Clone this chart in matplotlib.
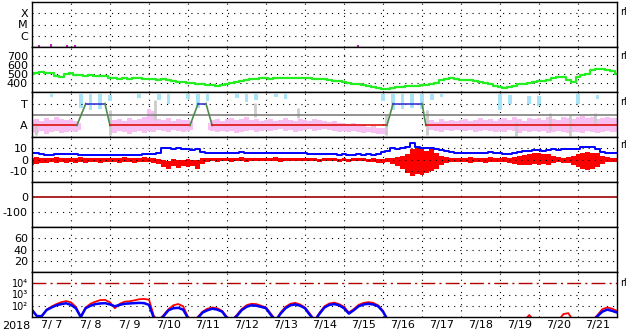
import numpy as np
import matplotlib.pyplot as plt

plt.rcParams['font.family'] = ['DejaVu Sans']
plt.rcParams['axes.unicode_minus'] = False

# time axis: days since 2018-07-07 00:00 UT, 3-hourly samples (7/7 .. 7/22)
t3 = np.arange(121) * 0.125
day_labels = ["7/%2d" % d for d in range(7, 22)]

# X-ray flux (only a few points above the panel floor)
xray_t = [0.18, 0.49, 0.90, 1.10, 8.36]
xray_f = [1.5e-7, 1.9e-7, 1.5e-7, 1.4e-7, 1.6e-7]

# solar wind speed (km/s)
speed = [
    505, 515, 522, 515, 508, 480, 470, 505,
    512, 492, 485, 480, 488, 478, 482, 475,
    460, 450, 445, 452, 448, 455, 450, 442,
    445, 440, 438, 442, 435, 425, 415, 408,
    400, 395, 390, 385, 378, 375, 372, 378,
    385, 395, 410, 425, 435, 440, 445, 450,
    455, 448, 452, 458, 450, 455, 460, 452,
    458, 450, 445, 448, 440, 432, 425, 418,
    410, 400, 392, 385, 378, 365, 355, 345,
    338, 335, 345, 355, 360, 362, 368, 372,
    375, 378, 385, 400, 430, 445, 450, 440,
    435, 428, 430, 420, 410, 398, 385, 368,
    352, 345, 350, 372, 385, 392, 400, 410,
    418, 422, 428, 460, 470, 462, 430, 410,
    470, 490, 495, 540, 560, 555, 545, 530,
    505]

# IMF sector: +1 = toward, -1 = away
sector_t = [0, 1.15, 1.38, 1.87, 2.0, 4.05, 4.26, 4.46, 4.62, 9.1, 9.26, 10.0, 10.1, 15]
sector_v = [-1, -1, 1, 1, -1, -1, 1, 1, -1, -1, 1, 1, -1, -1]

nan = np.nan
# pink (away) envelope, 3-hourly
pink_hi = [
    -0.5, -0.4, -0.6, -0.3, -0.5, -0.2, -0.4, -0.5,
    -0.4, -0.6, -0.8, nan, nan, nan, nan, nan,
    -0.3, -0.5, -0.4, -0.6, -0.3, -0.5, -0.4, -0.2,
    0.5, 0.3, -0.4, -0.5, -0.3, -0.6, -0.4, -0.5,
    -0.5, -0.6, nan, nan, -0.8, -0.5, -0.4, -0.6,
    -0.4, -0.3, -0.5, -0.4, -0.2, -0.5, -0.4, -0.6,
    -0.5, -0.4, -0.6, -0.5, -0.3, -0.5, -0.6, -0.4,
    -0.5, -0.6, -0.4, -0.5, -0.6, -0.7, -0.6, -0.8,
    -0.8, -0.9, -0.8, -1.0, -0.9, -1.1, -1.0, -1.2,
    -1.2, -1.4, nan, nan, nan, nan, nan, nan,
    nan, -0.6, -0.5, -0.7, -0.4, -0.6, -0.5, -0.6,
    -0.5, -0.4, -0.6, -0.5, -0.3, -0.5, -0.4, -0.6,
    -0.4, -0.3, -0.5, -0.2, -0.4, -0.6, -0.3, -0.4,
    -0.3, -0.5, -0.2, -0.4, -0.5, -0.2, -0.3, -0.4,
    -0.2, -0.1, -0.3, -0.2, -0.4, -0.3, -0.2, -0.3,
    -0.3]
pink_lo = [
    -1.6, -1.7, -1.5, -1.8, -1.6, -1.5, -1.7, -1.6,
    -1.5, -1.6, -1.4, nan, nan, nan, nan, nan,
    -1.6, -1.7, -1.5, -1.6, -1.8, -1.6, -1.5, -1.7,
    -1.5, -1.6, -1.4, -1.5, -1.6, -1.4, -1.5, -1.6,
    -1.5, -1.4, nan, nan, -1.4, -1.5, -1.6, -1.5,
    -1.6, -1.5, -1.7, -1.6, -1.5, -1.4, -1.6, -1.5,
    -1.4, -1.5, -1.4, -1.3, -1.5, -1.4, -1.6, -1.5,
    -1.4, -1.3, -1.5, -1.4, -1.3, -1.4, -1.5, -1.6,
    -1.5, -1.6, -1.5, -1.6, -1.7, -1.6, -1.7, -1.8,
    -1.8, -1.9, nan, nan, nan, nan, nan, nan,
    nan, -1.5, -1.4, -1.5, -1.6, -1.4, -1.5, -1.4,
    -1.4, -1.5, -1.4, -1.6, -1.5, -1.4, -1.5, -1.6,
    -1.5, -1.6, -1.4, -1.5, -1.7, -1.5, -1.6, -1.5,
    -1.6, -1.5, -1.7, -1.6, -1.5, -1.6, -1.7, -1.6,
    -1.6, -1.7, -1.5, -1.6, -1.7, -1.6, -1.5, -1.6,
    -1.6]

# cyan (toward) streaks
cyan_t = [0.0, 0.5, 1.25, 1.5, 1.75, 2.0, 2.75, 3.25, 3.5, 4.0, 4.25, 4.5,
          5.25, 5.5, 5.75, 6.25, 6.5, 9.0, 9.25, 9.5, 9.75, 10.0, 10.25, 10.5,
          12.0, 12.25, 12.75, 13.0, 14.0, 14.5]
cyan_lo = [1.5, 1.6, 0.6, 0.4, 0.5, 1.2, 1.5, 1.3, 1.0, 1.4, 0.6, 1.2,
           1.5, 1.1, 1.3, 1.6, 1.4, 1.2, 0.4, 0.5, 0.6, 0.5, 1.3, 1.6,
           0.4, 1.0, 1.0, 0.8, 1.0, 1.4]
cyan_hi = [1.9, 1.9, 1.9, 1.9, 1.9, 1.8, 1.9, 1.9, 1.9, 1.9, 1.9, 1.9,
           1.9, 1.9, 1.9, 1.9, 1.9, 1.9, 1.9, 1.9, 1.9, 1.9, 1.9, 1.9,
           1.9, 1.8, 1.7, 1.7, 1.9, 1.8]

# light gray streaks
gray_t = [0.10, 2.0, 3.15, 5.72, 6.82, 9.08, 10.13, 12.41, 13.28, 13.79, 14.44]
gray_lo = [-1.87, -1.87, -0.5, -0.23, -0.32, -1.87, -1.87, -2.0, -1.41, -1.96, -0.77]
gray_hi = [-0.77, 0.41, 1.32, 1.05, 0.59, -0.05, 0.41, -0.68, 0.14, -0.05, 0.14]

# IMF Bt (nT)
bt = [
    5.5, 5.8, 5.0, 4.2, 4.0, 4.5, 5.2, 5.0,
    5.3, 5.0, 4.2, 3.8, 4.0, 3.6, 3.8, 4.0,
    4.2, 4.0, 3.8, 4.0, 3.6, 4.0, 4.2, 4.5,
    4.8, 5.0, 6.0, 10.5, 10.0, 9.5, 10.0, 9.0,
    9.2, 8.8, 9.5, 7.0, 5.5, 5.8, 5.5, 6.0,
    6.2, 5.8, 6.0, 6.3, 6.0, 5.8, 6.0, 5.7,
    5.8, 6.0, 5.8, 5.5, 6.0, 5.8, 5.6, 5.8,
    5.6, 5.2, 4.8, 5.0, 4.5, 4.8, 4.6, 4.4,
    4.6, 4.4, 4.2, 4.6, 4.3, 4.5, 4.4, 4.7,
    7.0, 8.0, 10.0, 9.5, 10.5, 11.0, 14.5, 11.5,
    10.5, 9.8, 10.2, 9.0, 8.5, 8.0, 6.5, 6.0,
    5.8, 6.2, 5.5, 6.0, 5.6, 5.8, 6.5, 6.0,
    5.5, 5.0, 5.2, 5.8, 6.5, 7.5, 7.8, 8.2,
    8.5, 8.0, 8.5, 9.0, 8.6, 9.2, 9.5, 9.0,
    9.5, 11.0, 11.2, 10.8, 9.0, 6.5, 6.0, 6.2,
    6.0]

# IMF Bz envelope (nT)
bz_hi = [
    1.5, 2.0, 1.0, 1.5, 1.0, 2.0, 1.5, 1.0,
    1.5, 1.0, 2.0, 1.0, 1.5, 1.0, 1.0, 1.5,
    1.0, 1.5, 1.0, 2.0, 1.0, 1.5, 1.0, 2.0,
    1.5, 1.0, 0.5, 0.0, -1.0, 0.5, -0.5, 0.0,
    0.5, -0.5, 0.0, 1.0, 1.5, 1.0, 1.5, 1.0,
    1.5, 1.0, 1.5, 2.0, 1.5, 1.0, 1.5, 1.0,
    1.0, 1.5, 2.5, 1.5, 1.0, 1.5, 1.0, 1.0,
    1.0, 1.5, 1.0, 0.5, 1.0, 1.5, 1.0, 0.5,
    1.0, 0.5, 1.0, 1.5, 1.0, 0.5, 1.0, 0.5,
    0.5, 1.0, 1.5, 2.0, 3.0, 5.0, 9.0, 10.0,
    10.0, 8.0, 9.0, 6.0, 3.0, 2.0, 1.0, 1.5,
    1.5, 1.0, 2.0, 1.5, 1.0, 1.5, 2.0, 1.0,
    1.5, 2.0, 1.5, 2.5, 3.0, 4.0, 5.0, 6.0,
    6.0, 5.0, 4.5, 3.0, 2.0, 1.5, 2.0, 3.5,
    5.0, 6.0, 6.5, 5.5, 6.0, 3.0, 2.0, 1.5,
    1.5]
bz_lo = [
    -5.0, -4.0, -3.0, -3.5, -2.5, -3.0, -2.0, -3.0,
    -2.5, -3.0, -2.0, -3.5, -2.5, -2.0, -3.0, -2.0,
    -2.0, -2.5, -3.0, -2.0, -2.5, -3.0, -2.0, -2.5,
    -2.5, -3.0, -4.0, -7.0, -8.0, -6.0, -7.5, -6.0,
    -7.0, -6.0, -8.0, -4.0, -2.0, -1.5, -2.0, -1.5,
    -1.5, -2.0, -1.0, -1.5, -2.0, -1.5, -1.0, -1.5,
    -1.5, -1.0, -1.5, -2.0, -1.5, -1.0, -1.5, -1.0,
    -1.5, -1.0, -1.5, -2.0, -1.5, -1.0, -1.5, -2.0,
    -1.5, -2.0, -1.5, -1.0, -1.5, -2.0, -2.5, -3.0,
    -3.0, -2.0, -4.0, -6.0, -8.0, -12.0, -15.0, -13.0,
    -14.0, -12.0, -10.0, -8.0, -5.0, -3.0, -2.0, -2.5,
    -2.5, -2.0, -3.0, -2.0, -2.5, -3.0, -2.0, -2.5,
    -2.0, -2.5, -3.0, -4.0, -5.0, -4.5, -5.0, -4.0,
    -5.0, -4.0, -4.5, -3.0, -2.5, -3.0, -3.5, -5.0,
    -7.0, -8.0, -9.5, -8.0, -7.0, -4.0, -2.5, -2.0,
    -2.0]

# electron flux (two channels)
flux_blue = [
    42, 12, 12, 42, 70, 110, 140, 165,
    120, 60, 10, 60, 100, 140, 160, 170,
    130, 90, 120, 150, 160, 170, 180, 170,
    120, 8, 5, 12, 40, 60, 65, 45,
    8, 5, 8, 25, 40, 55, 45, 30,
    8, 5, 12, 40, 80, 110, 100, 80,
    60, 15, 5, 20, 60, 110, 130, 100,
    60, 15, 5, 20, 70, 120, 140, 110,
    60, 20, 40, 90, 130, 150, 130, 90,
    30, 5, 5, 5, 5, 5, 5, 5,
    5, 5, 5, 5, 5, 5, 5, 5,
    5, 5, 5, 5, 5, 5, 5, 5,
    5, 5, 5, 5, 5, 5, 5, 5,
    5, 5, 5, 5, 5, 5, 5, 5,
    5, 5, 5, 5, 12, 30, 45, 35,
    25]
flux_red = [
    45, 12, 12, 45, 85, 140, 210, 260,
    200, 80, 10, 70, 150, 230, 320, 330,
    200, 60, 150, 230, 250, 300, 380, 400,
    350, 12, 5, 15, 50, 110, 143, 90,
    10, 5, 10, 30, 55, 70, 60, 35,
    10, 5, 15, 50, 110, 150, 140, 100,
    70, 20, 5, 25, 80, 150, 180, 130,
    70, 20, 5, 25, 90, 160, 190, 140,
    80, 25, 50, 120, 180, 210, 180, 110,
    35, 5, 5, 5, 5, 5, 5, 5,
    5, 5, 5, 5, 5, 5, 5, 5,
    5, 5, 5, 5, 5, 5, 5, 5,
    5, 5, 5, 5, 5, 5, 15, 5,
    5, 5, 5, 5, 5, 18, 22, 5,
    5, 5, 5, 5, 15, 50, 70, 55,
    35]

W, H = 633, 334
left, right = 32, 617
top0, ph = 2, 45
dot = (0, (1, 4.5))
fs = 8

fig = plt.figure(figsize=(W / 100, H / 100), dpi=100)
axes = []
for i in range(7):
    top = top0 + i * ph
    ax = fig.add_axes([left / W, 1 - (top + ph) / H, (right - left) / W, ph / H])
    ax.set_xlim(0, 15)
    ax.set_xticks([])
    ax.tick_params(axis='y', length=0, pad=3, labelsize=fs)
    for s in ax.spines.values():
        s.set_linewidth(1.0)
    for d in range(1, 15):
        ax.axvline(d, color='black', lw=0.8, ls=dot, zorder=1)
    axes.append(ax)

# panel 1: X-ray class
ax = axes[0]
ax.set_yscale('log')
ax.set_ylim(1e-7, 1e-3)
ax.set_yticks([1e-4, 1e-5, 1e-6])
ax.set_yticklabels(['X', 'M', 'C'])
ax.minorticks_off()
for v in [1e-4, 1e-5, 1e-6]:
    ax.axhline(v, color='black', lw=0.8, ls=dot)
ax.vlines(xray_t, 1e-7, xray_f, color='#cc22cc', lw=1.5)

# panel 2: speed
ax = axes[1]
ax.set_ylim(300, 800)
ax.set_yticks([700, 600, 500, 400])
for v in [700, 600, 500, 400]:
    ax.axhline(v, color='black', lw=0.8, ls=dot)
ax.plot(t3, speed, color='#22ee22', lw=1.6, drawstyle='steps-mid')

# panel 3: sector
ax = axes[2]
ax.set_ylim(-2.05, 2.05)
ax.set_yticks([1, -1])
ax.set_yticklabels(['T', 'A'])
ax.axhline(1, color='black', lw=0.8, ls=dot)
ax.fill_between(t3, pink_lo, pink_hi, step='mid', color='#f7bff2', lw=0)
ax.bar(cyan_t, np.array(cyan_hi) - np.array(cyan_lo), bottom=cyan_lo,
       width=0.09, color='#a8e4f8', lw=0)
ax.vlines(gray_t, gray_lo, gray_hi, color='#cccccc', lw=2)
ax.axhline(0, color='#808080', lw=1.2)
for k in range(len(sector_t) - 1):
    v0, v1 = sector_v[k], sector_v[k + 1]
    if v0 == v1 == -1:
        c = '#e01010'
    elif v0 == v1 == 1:
        c = '#3a3ad8'
    else:
        c = '#4f8a4f'
    ax.plot(sector_t[k:k + 2], sector_v[k:k + 2], color=c, lw=1.2)

# panel 4: Bt / Bz
ax = axes[3]
ax.set_ylim(-20, 20)
ax.set_yticks([10, 0, -10])
for v in [10, 0, -10]:
    ax.axhline(v, color='black', lw=0.8, ls=dot)
ax.fill_between(t3, bz_lo, bz_hi, step='mid', color='#ff0000', lw=0)
ax.plot(t3, bt, color='#0000ff', lw=1.4, drawstyle='steps-mid')

# panel 5
ax = axes[4]
ax.set_ylim(-200, 100)
ax.set_yticks([0, -100])
ax.axhline(-100, color='black', lw=0.8, ls=dot)
ax.axhline(0, color='#a00000', lw=1.2)

# panel 6
ax = axes[5]
ax.set_ylim(0, 80)
ax.set_yticks([60, 40, 20])
for v in [60, 40, 20]:
    ax.axhline(v, color='black', lw=0.8, ls=dot)

# panel 7: electron flux
ax = axes[6]
ax.set_yscale('log')
ax.set_ylim(10, 1e5)
ax.set_yticks([1e4, 1e3, 1e2])
ax.set_yticklabels(['10\u2074', '10\u00b3', '10\u00b2'])
ax.tick_params(axis='y', labelsize=7)
ax.minorticks_off()
ax.axhline(1e3, color='black', lw=0.8, ls=dot)
ax.axhline(1e2, color='black', lw=0.8, ls=dot)
ax.axhline(1e4, color='#b00000', lw=1.0, ls=(0, (10, 3, 1.5, 3)))
ax.plot(t3, flux_red, color='#ff0000', lw=1.3)
ax.plot(t3, flux_blue, color='#0000ff', lw=1.8)
ax.set_xticks(np.arange(15) + 0.5)
ax.set_xticklabels(day_labels)
ax.tick_params(axis='x', length=0, pad=2, labelsize=fs)

fig.text(2 / W, 1 - 326 / H, '2018', ha='left', va='center', fontsize=fs)
for y in [12, 56, 102, 145, 283]:
    fig.text(620 / W, 1 - y / H, 'rl', ha='left', va='center', fontsize=7)

fig.savefig('out.png', dpi=100)
